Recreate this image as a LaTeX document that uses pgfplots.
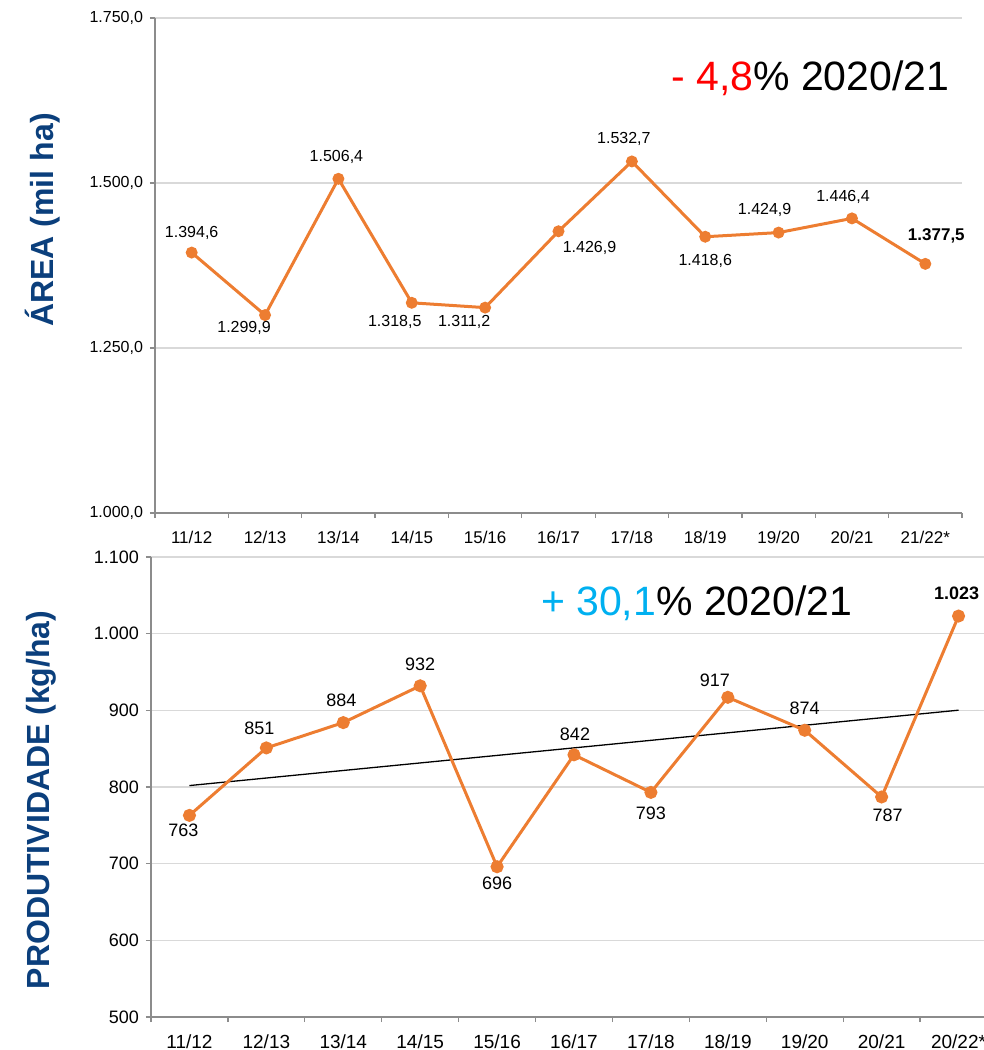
\documentclass[border=0pt]{standalone}
\usepackage{pgfplots}
\pgfplotsset{compat=1.18}
\usepackage{pgfplotstable}
\usepackage{fontspec}
\setmainfont{Liberation Sans}
\definecolor{orng}{HTML}{ED7D31}
\definecolor{dblue}{HTML}{0B3F7C}
\definecolor{gridc}{HTML}{D9D9D9}
\definecolor{axc}{HTML}{8C8C8C}
\definecolor{cyanb}{HTML}{00B0F0}

% area (mil ha); dx, dy = label offsets in pt
\pgfplotstableread{
x y lab dx dy
0 1394.6 1.394,6 0 10
1 1299.9 1.299,9 -10.5 -6.5
2 1506.4 1.506,4 -1 11
3 1318.5 1.318,5 -8.5 -9.5
4 1311.2 1.311,2 -10.5 -7
5 1426.9 1.426,9 15.5 -8.5
6 1532.7 1.532,7 -4 11
7 1418.6 1.418,6 0 -12
8 1424.9 1.424,9 -7 11.5
9 1446.4 1.446,4 -4.5 10.5
10 1377.5 1.377,5 5.5 14
}\areatab

% produtividade (kg/ha)
\pgfplotstableread{
x y lab dx dy
0 763 763 -3 -7.5
1 851 851 -3.5 10
2 884 884 -1 11
3 932 932 0 11
4 696 696 0 -8.5
5 842 842 0.5 10.5
6 793 793 0 -10.5
7 917 917 -6.5 8.5
8 874 874 0 11
9 787 787 3 -9
10 1023 1.023 -1 11.5
}\prodtab

\begin{document}
\begin{tikzpicture}
\useasboundingbox (0,0) rectangle (492pt,-525pt);
\clip (0,0) rectangle (492pt,-525pt);

% ---------------- top: area ----------------
\begin{axis}[
  at={(77.5pt,-256.5pt)}, anchor=south west,
  scale only axis, width=403.5pt, height=247.5pt,
  clip=false,
  xmin=-0.5, xmax=10.5, ymin=1000, ymax=1750,
  axis x line=bottom, axis y line=left,
  axis line style={-, draw=axc, line width=0.6pt},
  tick style={draw=axc, line width=0.6pt},
  tick align=outside, major tick length=2.5pt, minor tick length=2.5pt,
  xtick={0,1,...,10},
  xticklabels={11/12,12/13,13/14,14/15,15/16,16/17,17/18,18/19,19/20,20/21,21/22*},
  major x tick style={draw=none},
  minor xtick={-0.5,0.5,...,10.5},
  ytick={1000,1250,1500,1750},
  ymajorgrids, grid style={gridc, line width=0.6pt},
  /pgf/number format/assume math mode=true,
  y tick label style={font=\fontsize{8}{9}\selectfont,
    /pgf/number format/.cd, fixed, fixed zerofill, precision=1, use comma, 1000 sep={.}},
  x tick label style={font=\fontsize{8.5}{10}\selectfont, yshift=-3pt},
  ylabel={ÁREA (mil ha)},
  ylabel style={at={(rel axis cs:-0.139,0.592)}, anchor=center,
    font=\fontsize{16}{18}\selectfont\bfseries, text=dblue},
]
\addplot[orng, line width=1.5pt, mark=*, mark size=2.2pt,
  mark options={fill=orng, draw=orng}] table[x=x, y=y]{\areatab};
\addplot[draw=none, mark=none, point meta=explicit symbolic,
  nodes near coords, skip coords between index={10}{11},
  visualization depends on={\thisrow{dx}\as\ldx},
  visualization depends on={\thisrow{dy}\as\ldy},
  nodes near coords style={anchor=center, xshift=\ldx pt, yshift=\ldy pt,
    font=\fontsize{8}{9}\selectfont, text=black}]
  table[x=x, y=y, meta=lab]{\areatab};
\addplot[draw=none, mark=none, nodes near coords={\bfseries 1.377,5},
  nodes near coords style={anchor=center, xshift=5.5pt, yshift=14pt,
    font=\fontsize{8.5}{10}\selectfont, text=black}]
  coordinates {(10,1377.5)};
\node[font=\fontsize{20.5}{24}\selectfont] at (rel axis cs:0.812,0.879)
  {\textcolor{red}{- 4,8}\% 2020/21};
\end{axis}

% ---------------- bottom: produtividade ----------------
\begin{axis}[
  at={(75.5pt,-508.5pt)}, anchor=south west,
  scale only axis, width=423pt, height=230pt,
  clip=false,
  xmin=-0.5, xmax=10.5, ymin=500, ymax=1100,
  axis x line=bottom, axis y line=left,
  axis line style={-, draw=axc, line width=0.6pt},
  tick style={draw=axc, line width=0.6pt},
  tick align=outside, major tick length=2.5pt, minor tick length=2.5pt,
  xtick={0,1,...,10},
  xticklabels={11/12,12/13,13/14,14/15,15/16,16/17,17/18,18/19,19/20,20/21,20/22*},
  major x tick style={draw=none},
  minor xtick={-0.5,0.5,...,10.5},
  ytick={500,600,...,1100},
  ymajorgrids, grid style={gridc, line width=0.6pt},
  /pgf/number format/assume math mode=true,
  y tick label style={font=\fontsize{9}{10}\selectfont,
    /pgf/number format/.cd, 1000 sep={.}},
  x tick label style={font=\fontsize{9.5}{11}\selectfont, yshift=-3pt},
  ylabel={PRODUTIVIDADE (kg/ha)},
  ylabel style={at={(rel axis cs:-0.130,0.472)}, anchor=center,
    font=\fontsize{16}{18}\selectfont\bfseries, text=dblue},
]
\addplot[black, line width=0.65pt, mark=none] coordinates {(0,801.9) (10,900.2)};
\addplot[orng, line width=1.5pt, mark=*, mark size=2.5pt,
  mark options={fill=orng, draw=orng}] table[x=x, y=y]{\prodtab};
\addplot[draw=none, mark=none, point meta=explicit symbolic,
  nodes near coords, skip coords between index={10}{11},
  visualization depends on={\thisrow{dx}\as\ldx},
  visualization depends on={\thisrow{dy}\as\ldy},
  nodes near coords style={anchor=center, xshift=\ldx pt, yshift=\ldy pt,
    font=\fontsize{9}{10}\selectfont, text=black}]
  table[x=x, y=y, meta=lab]{\prodtab};
\addplot[draw=none, mark=none, nodes near coords={\bfseries 1.023},
  nodes near coords style={anchor=center, xshift=-1pt, yshift=11.5pt,
    font=\fontsize{9}{10}\selectfont, text=black}]
  coordinates {(10,1023)};
\node[font=\fontsize{20.5}{24}\selectfont] at (rel axis cs:0.645,0.9)
  {\textcolor{cyanb}{+ 30,1}\% 2020/21};
\end{axis}
\end{tikzpicture}
\end{document}
